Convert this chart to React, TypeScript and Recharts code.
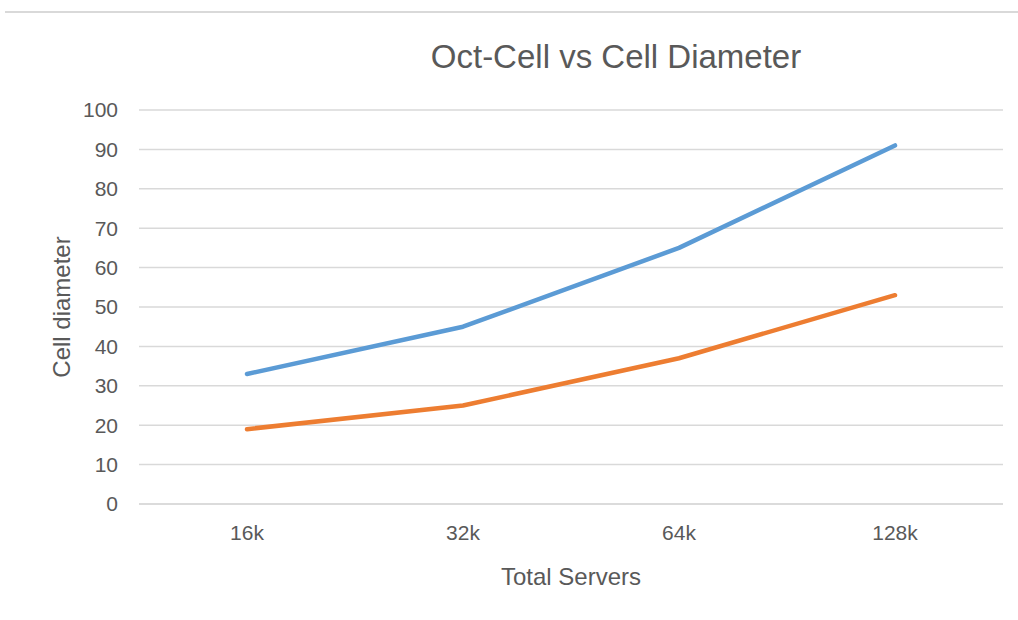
import React from 'react';
import { LineChart, Line, XAxis, YAxis, CartesianGrid, Label } from 'recharts';

const categories = ['16k', '32k', '64k', '128k'];
const octCell = [33, 45, 65, 91];
const cellDiameter = [19, 25, 37, 53];
const yTicks = [0, 10, 20, 30, 40, 50, 60, 70, 80, 90, 100];

const data = categories.map((c, i) => ({ name: c, a: octCell[i], b: cellDiameter[i] }));

const FONT = '"Liberation Sans", Arial, sans-serif';
const GREY = '#595959';

export default function App() {
  return (
    <div style={{ position: 'absolute', left: 0, top: 0, width: 1018, height: 620, background: '#fff', fontFamily: FONT }}>
      <div style={{ position: 'absolute', left: 5, right: 0, top: 11, height: 2, background: '#d9d9d9' }} />
      <div style={{ position: 'absolute', left: 0, width: 1232, top: 37, textAlign: 'center', fontSize: 33, color: GREY, lineHeight: '40px' }}>
        Oct-Cell vs Cell Diameter
      </div>
      <div style={{ position: 'absolute', left: 0, top: 0 }}>
        <LineChart width={1018} height={620} data={data} margin={{ top: 110, right: 15, bottom: 0, left: 0 }}>
          <CartesianGrid vertical={false} stroke="#d9d9d9" strokeWidth={1.5} />
          <XAxis
            dataKey="name"
            height={116}
            padding={{ left: 108, right: 108 }}
            axisLine={{ stroke: '#d9d9d9', strokeWidth: 1.5 }}
            tickLine={false}
            tickSize={0}
            tickMargin={21}
            tick={{ fill: GREY, fontSize: 21, fontFamily: FONT }}
          >
            <Label value="Total Servers" position="insideBottom" offset={35} fill={GREY} fontSize={24} fontFamily={FONT} />
          </XAxis>
          <YAxis
            width={139}
            domain={[0, 100]}
            ticks={yTicks}
            axisLine={false}
            tickLine={false}
            tickSize={0}
            tickMargin={21}
            tick={{ fill: GREY, fontSize: 21, fontFamily: FONT }}
          >
            <Label value="Cell diameter" position="center" angle={-90} dx={-8} fill={GREY} fontSize={24} fontFamily={FONT} />
          </YAxis>
          <Line type="linear" dataKey="a" stroke="#5b9bd5" strokeWidth={4.5} dot={false} isAnimationActive={false} strokeLinecap="round" strokeLinejoin="round" />
          <Line type="linear" dataKey="b" stroke="#ed7d31" strokeWidth={4.5} dot={false} isAnimationActive={false} strokeLinecap="round" strokeLinejoin="round" />
        </LineChart>
      </div>
    </div>
  );
}
